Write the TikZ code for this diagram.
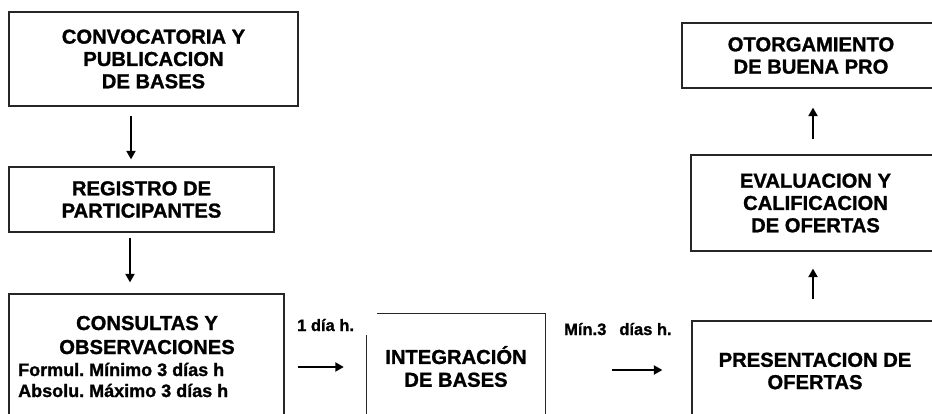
\documentclass[tikz,border=0pt]{standalone}
\usepackage{fontspec}
\setmainfont{Liberation Sans}[BoldFeatures={FakeBold=1.2}]
\usetikzlibrary{arrows.meta}
\frenchspacing

\tikzset{
  caja/.style={draw=black!85, line width=1.2pt, align=center, inner sep=0pt,
    font=\bfseries\fontsize{20.2}{22.3}\selectfont},
  titulo/.style={anchor=base, inner sep=0pt, font=\bfseries\fontsize{20.2}{22.3}\selectfont},
  plazo/.style={anchor=base west, inner sep=0pt, font=\bfseries\fontsize{18}{21}\selectfont},
  nota/.style={anchor=base west, inner sep=0pt, font=\bfseries\fontsize{16.5}{20}\selectfont},
  flecha/.style={-{Triangle[length=8.5pt,width=9pt]}, line width=2pt},
}

\begin{document}
\begin{tikzpicture}[x=1pt,y=-1pt]
\useasboundingbox (0,0) rectangle (932,414);
\clip (0,0) rectangle (932,414);

% left column
\node[caja, minimum width=289pt, minimum height=94pt] (conv) at (153.5,59)
  {CONVOCATORIA Y\\PUBLICACION\\DE BASES};
\node[caja, minimum width=265pt, minimum height=65pt] (reg) at (141.5,199.5)
  {REGISTRO DE\\PARTICIPANTES};
\node[caja, minimum width=275pt, minimum height=172pt] (cons) at (146.5,380) {};
\node[titulo] at (147,330) {CONSULTAS Y};
\node[titulo] at (147,354) {OBSERVACIONES};
\node[plazo] at (18,376) {Formul. Mínimo 3 días h};
\node[plazo] at (18,397) {Absolu. Máximo 3 días h};

% integracion: the left side starts lower than the top line
\node[align=center, inner sep=0pt, minimum width=178pt, minimum height=105pt,
  font=\bfseries\fontsize{20.2}{22.8}\selectfont] (integ) at (456,366.5)
  {INTEGRACIÓN\\DE BASES};
\draw[black!85, line width=1.2pt] ([xshift=10pt]integ.north west) -| (integ.south east);
\draw[black!85, line width=1.2pt] ([yshift=-21pt]integ.north west) -- (integ.south west);

% right column
\node[caja, minimum width=246pt, minimum height=100pt] (pres) at (815,371)
  {PRESENTACION DE\\OFERTAS};
\node[caja, minimum width=249pt, minimum height=96pt] (eval) at (815.5,203)
  {EVALUACION Y\\CALIFICACION\\DE OFERTAS};
\node[caja, minimum width=258pt, minimum height=65pt] (otor) at (811,55.5)
  {OTORGAMIENTO\\DE BUENA PRO};

% arrows
\draw[flecha, shorten <=9pt, shorten >=7pt] (conv.south -| 131,0) -- (reg.north -| 131,0);
\draw[flecha, shorten <=5pt, shorten >=11pt] (reg.south -| 130,0) -- (cons.north -| 130,0);
\draw[flecha, shorten <=13pt, shorten >=23pt] (cons.east |- 0,367) -- (integ.west |- 0,367);
\draw[flecha, shorten <=67pt, shorten >=29pt] (integ.east |- 0,370) -- (pres.west |- 0,370);
\draw[flecha, shorten <=21pt, shorten >=17pt] (pres.north -| 813,0) -- (eval.south -| 813,0);
\draw[flecha, shorten <=15pt, shorten >=19pt] (eval.north -| 813,0) -- (otor.south -| 813,0);

\node[nota] (dia) at (297,331) {1 día h.};
\node[nota] (min) at (564,335) {Mín.3\hspace{13pt}días h.};
\end{tikzpicture}
\end{document}
